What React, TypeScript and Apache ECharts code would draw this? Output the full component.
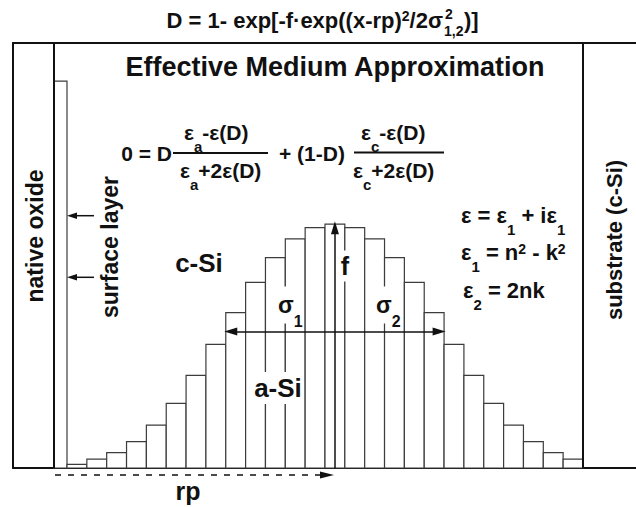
import React, { useEffect, useRef } from "react";
import * as echarts from "echarts";

// Depth bins (bin index = lower edge) and relative a-Si content (f = 1 at the peak)
const binStarts = [0, 1, 2, 3, 4, 5, 6, 7, 8, 9, 10, 11, 12, 13, 14, 15, 16, 17, 18, 19, 20, 21, 22, 23, 24, 25];
const binHeights = [0.015, 0.036, 0.063, 0.108, 0.176, 0.265, 0.38, 0.507, 0.637, 0.761, 0.862, 0.939, 0.985, 1.0, 0.985, 0.939, 0.862, 0.761, 0.637, 0.507, 0.38, 0.265, 0.176, 0.108, 0.063, 0.036];
// Surface layer slab: [start, end, height]
const surfaceLayer = [-0.655, 0, 1.586];
// Region boundaries on the depth axis
const depthMin = -2.721;
const depthMax = 28.671;
const oxideBoundary = -0.655;
const substrateBoundary = 26;
const heightMax = 1.742;
// Annotation positions in data units
const rpPosition = 13.5;
const peakValue = 0.985;
const sigmaLevel = 0.559;
const sigmaLeft = 8.25;
const sigmaRight = 18.75;

const FONT = "'Liberation Sans', Arial, Helvetica, sans-serif";
const f = (size: number) => `bold ${size}px ${FONT}`;

function txt(x: number, y: number, text: string, size: number, align = "left", extra: any = {}) {
  return {
    type: "text",
    x,
    y,
    z: 10,
    ...extra,
    style: {
      text,
      font: f(size),
      fill: "#111",
      align,
      verticalAlign: "middle",
      textAlign: align,
      textVerticalAlign: "middle",
      ...(extra.style || {}),
    },
  };
}

// rich text with sub/superscripts
function rich(x: number, y: number, text: string, mainSize: number, subSize: number, drop: number, align = "left", extraStyle: any = {}, supPad = 10) {
  const L = 2 * drop + 23;
  return {
    type: "text",
    x,
    y,
    z: 10,
    style: {
      text,
      fill: "#111",
      font: f(mainSize),
      align,
      verticalAlign: "middle",
      textAlign: align,
      textVerticalAlign: "middle",
      ...extraStyle,
      rich: {
        m: { font: f(mainSize), lineHeight: L, fill: "#111" },
        sub: { font: f(subSize), lineHeight: subSize, verticalAlign: "bottom", fill: "#111" },
        sup: { font: f(subSize - 1), lineHeight: subSize, verticalAlign: "top", padding: [supPad, 0, 0, 0], fill: "#111" },
      },
    },
  };
}

export default function App() {
  const ref = useRef<HTMLDivElement>(null);
  useEffect(() => {
    if (!ref.current) return;
    const chart = echarts.init(ref.current, null, { renderer: "svg" });
    const barData = [surfaceLayer, ...binStarts.map((s, i) => [s, s + 1, binHeights[i]])];
    const frameLine = { color: "#111", width: 2, type: "solid" };
    const option: any = {
      animation: false,
      backgroundColor: "#fff",
      grid: { left: 13, right: 0, top: 43, bottom: 39, containLabel: false },
      xAxis: [
        {
          type: "value", min: depthMin, max: depthMax,
          axisLine: { show: true, onZero: false, lineStyle: frameLine },
          axisTick: { show: false }, axisLabel: { show: false }, splitLine: { show: false },
        },
        {
          type: "value", position: "top", min: depthMin, max: depthMax,
          axisLine: { show: true, onZero: false, lineStyle: frameLine },
          axisTick: { show: false }, axisLabel: { show: false }, splitLine: { show: false },
        },
      ],
      yAxis: {
        type: "value", min: 0, max: heightMax,
        axisLine: { show: true, onZero: false, lineStyle: frameLine },
        axisTick: { show: false }, axisLabel: { show: false }, splitLine: { show: false },
      },
      series: [
        {
          type: "custom",
          data: barData,
          encode: { x: [0, 1], y: 2 },
          z: 2,
          renderItem: (params: any, api: any) => {
            const p0 = api.coord([api.value(0), api.value(2)]);
            const p1 = api.coord([api.value(1), 0]);
            return {
              type: "rect",
              shape: { x: p0[0], y: p0[1], width: p1[0] - p0[0], height: p1[1] - p0[1] },
              style: { fill: "#fff", stroke: "#3c3c3c", lineWidth: 1.2 },
            };
          },
        },
        {
          type: "line",
          data: [],
          z: 4,
          markLine: {
            silent: true,
            animation: false,
            symbol: ["none", "none"],
            label: { show: false },
            lineStyle: { color: "#111", width: 2, type: "solid" },
            data: [
              { xAxis: oxideBoundary },
              { xAxis: substrateBoundary },
              [
                { coord: [rpPosition, 0], symbol: "none", lineStyle: { width: 1.5 } },
                { coord: [rpPosition, peakValue], symbol: "triangle", symbolSize: [8, 13] },
              ],
              [
                { coord: [sigmaLeft, sigmaLevel], symbol: "triangle", symbolSize: [8, 13], lineStyle: { width: 1.5 } },
                { coord: [sigmaRight, sigmaLevel], symbol: "triangle", symbolSize: [8, 13] },
              ],
            ],
          },
        },
      ],
      graphic: [
        // Top formula
        rich(443, 20, "{m|D = 1- exp[-f·exp((x-rp)}{sup|2}{m|/2σ}", 22, 15, 8, "right", {}, 8),
        txt(445, 14, "2", 14),
        txt(444, 31, "1,2", 14),
        txt(464, 20, ")]", 22),
        // Title
        txt(335, 67, "Effective Medium Approximation", 27, "center"),
        // Bruggeman formula
        txt(172, 153, "0 = D", 21, "right"),
        { type: "line", z: 10, shape: { x1: 173, y1: 153, x2: 268, y2: 153 }, style: { stroke: "#111", lineWidth: 2 } },
        rich(184, 132, "{m|ε}{sub|a}{m|-ε(D)}", 21, 15, 10),
        rich(180, 170, "{m|ε}{sub|a}{m|+2ε(D)}", 21, 15, 10),
        txt(279, 153, "+ (1-D)", 21),
        { type: "line", z: 10, shape: { x1: 354, y1: 152.5, x2: 444, y2: 152.5 }, style: { stroke: "#111", lineWidth: 2 } },
        rich(361, 132, "{m|ε}{sub|c}{m|-ε(D)}", 21, 15, 10),
        rich(353, 170, "{m|ε}{sub|c}{m|+2ε(D)}", 21, 15, 10),
        // Dielectric relations
        rich(461, 215, "{m|ε = ε}{sub|1}{m| + iε}{sub|1}", 22, 15, 10),
        rich(461, 252, "{m|ε}{sub|1}{m| = n}{sup|2}{m| - k}{sup|2}", 22, 15, 10, "left", {}, 11),
        rich(463, 290, "{m|ε}{sub|2}{m| = 2nk}", 22, 15, 10),
        // Region labels
        txt(35, 236, "native oxide", 23, "center", { rotation: Math.PI / 2 }),
        txt(110, 247, "surface layer", 23, "center", { rotation: Math.PI / 2 }),
        txt(614, 240, "substrate (c-Si)", 22, "center", { rotation: Math.PI / 2 }),
        txt(199, 263, "c-Si", 26, "center"),
        txt(278, 388, "a-Si", 26, "center", { style: { backgroundColor: "#fff", padding: [3, 2] } }),
        txt(345, 266, "f", 25, "center", { style: { backgroundColor: "#fff", padding: [3, 2] } }),
        rich(277, 305, "{m|σ}{sub|1}", 23, 16, 13, "left", { backgroundColor: "#fff", padding: [-6, 1, -6, 1] }),
        rich(375, 305, "{m|σ}{sub|2}", 23, 16, 13, "left", { backgroundColor: "#fff", padding: [-6, 1, -6, 1] }),
        // Surface layer arrows
        { type: "line", z: 10, shape: { x1: 94, y1: 215.7, x2: 74, y2: 215.7 }, style: { stroke: "#111", lineWidth: 1.5 } },
        { type: "polygon", z: 10, shape: { points: [[67, 215.7], [77, 212.5], [77, 219]] }, style: { fill: "#111" } },
        { type: "line", z: 10, shape: { x1: 94, y1: 277.3, x2: 74, y2: 277.3 }, style: { stroke: "#111", lineWidth: 1.5 } },
        { type: "polygon", z: 10, shape: { points: [[67, 277.3], [77, 274], [77, 280.5]] }, style: { fill: "#111" } },
        // rp dashed arrow
        { type: "line", z: 10, shape: { x1: 55, y1: 475, x2: 322, y2: 475 }, style: { stroke: "#111", lineWidth: 1.5, lineDash: [6, 7] } },
        { type: "polygon", z: 10, shape: { points: [[334, 475], [320, 471.5], [320, 478.5]] }, style: { fill: "#111" } },
        txt(188, 491, "rp", 25, "center"),
      ],
    };
    chart.setOption(option);
    return () => chart.dispose();
  }, []);
  return <div ref={ref} style={{ width: 636, height: 507, position: "absolute", left: 0, top: 0, background: "#fff" }} />;
}
